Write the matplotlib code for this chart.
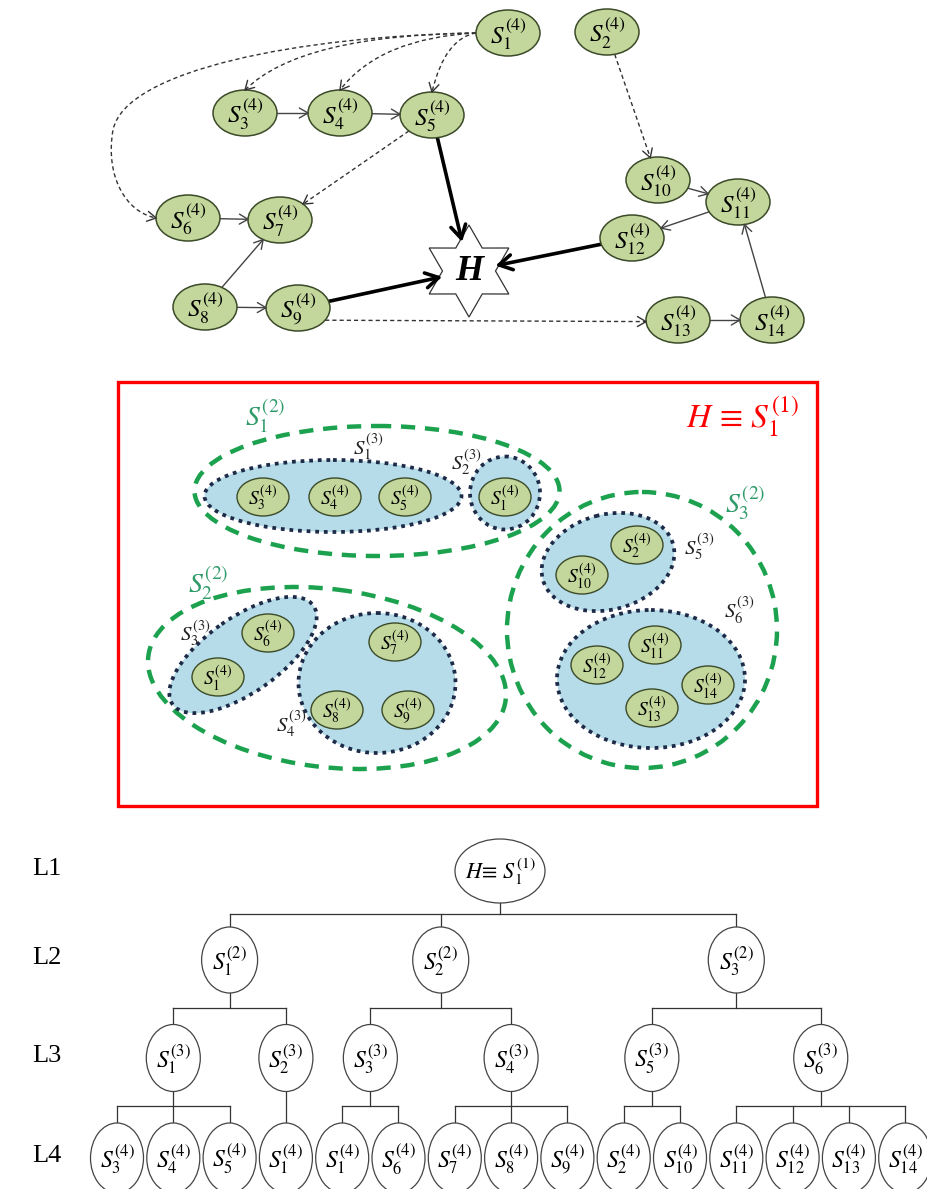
import numpy as np
import matplotlib
matplotlib.use("Agg")
import matplotlib.pyplot as plt
from matplotlib.patches import Ellipse, Polygon, Rectangle, PathPatch
from matplotlib.path import Path

plt.rcParams['mathtext.fontset'] = 'stix'

# ------------------------------------------------------------------ data
net_nodes = list(range(1, 15))
net_solid_edges = [(3, 4), (4, 5), (6, 7), (8, 7), (8, 9), (10, 11), (11, 12), (13, 14), (14, 11)]
net_dashed_edges = [(1, 3), (1, 4), (1, 5), (1, 6), (5, 7), (2, 10), (9, 13)]
net_to_hub = [5, 9, 12]
hub_label = "H"

root_label = r"$H\!\equiv\, S_1^{(1)}$"
box_title = r"$H\,\equiv\,S_1^{(1)}$"
level2_ids = [1, 2, 3]
level2_children = [[1, 2], [3, 4], [5, 6]]          # level-3 ids per level-2 group
level3_ids = [1, 2, 3, 4, 5, 6]
level3_children = [[3, 4, 5], [1], [1, 6], [7, 8, 9], [2, 10], [11, 12, 13, 14]]  # level-4 ids
level_names = ["L1", "L2", "L3", "L4"]

# ------------------------------------------------------------------ layout / style
W, H = 927, 1189
GREEN_FILL = '#c3d69b'
GREEN_EDGE = '#3b4a28'
BLUE_FILL = '#b5dce8'
DOT_EDGE = '#1d2b48'
DASH_GREEN = '#1ca24f'
LABEL_GREEN = '#2f9b6a'
LINE = '#444444'

net_xy = {1: (508, 33), 2: (607, 32), 3: (245, 113), 4: (340, 113), 5: (432, 115),
          6: (188, 218), 7: (280, 220), 8: (205, 307), 9: (298, 308), 10: (658, 180),
          11: (738, 202), 12: (632, 238), 13: (678, 320), 14: (772, 320)}
NW, NH = 64, 46
hub_xy = np.array([469.0, 271.0])
R_OUT, R_IN = 46, 26.5

# anchors (directions) and curve control points for some dashed edges
edge_anchor = {(1, 3): ((-1, 0), (0, -1)), (1, 4): ((-1, 0), (0, -1)), (1, 5): ((-1, 0), (0, -1)),
               (1, 6): ((-1, 0), (-1, 0)), (9, 13): ((1, 0.45), (-1, 0.05))}
edge_ctrl = {(1, 3): [(300, 35)], (1, 4): [(380, 38)], (1, 5): [(445, 38)],
             (1, 6): [(300, 36), (125, 70), (113, 130), (105, 175), (125, 212)]}

fig = plt.figure(figsize=(W / 100, H / 100), dpi=100)
ax = fig.add_axes([0, 0, 1, 1])
ax.set_xlim(0, W)
ax.set_ylim(H, 0)
ax.axis('off')


def ell_pt(c, w, h, d):
    d = np.asarray(d, float)
    d = d / np.hypot(*d)
    t = 1.0 / np.sqrt((d[0] / (w / 2)) ** 2 + (d[1] / (h / 2)) ** 2)
    return np.asarray(c, float) + t * d


def ray_poly(c, d, verts):
    d = np.asarray(d, float)
    d = d / np.hypot(*d)
    best = 0
    n = len(verts)
    for i in range(n):
        p, q = verts[i], verts[(i + 1) % n]
        e = q - p
        M = np.array([[d[0], -e[0]], [d[1], -e[1]]])
        if abs(np.linalg.det(M)) < 1e-9:
            continue
        t, s = np.linalg.solve(M, p - c)
        if t > 0 and -1e-9 <= s <= 1 + 1e-9:
            best = max(best, t)
    return c + best * d


def head(tip, direction, L, ang, lw, color):
    d = np.asarray(direction, float)
    d = d / np.hypot(*d)
    for s in (1, -1):
        a = np.deg2rad(ang * s)
        R = np.array([[np.cos(a), -np.sin(a)], [np.sin(a), np.cos(a)]])
        b = tip - L * (R @ d)
        ax.plot([b[0], tip[0]], [b[1], tip[1]], color=color, lw=lw,
                solid_capstyle='round', zorder=3)


# ================================================================== panel 1
ang = np.deg2rad(np.arange(12) * 30 - 90)
rad = np.where(np.arange(12) % 2 == 0, R_OUT, R_IN)
star = np.column_stack([hub_xy[0] + rad * np.cos(ang), hub_xy[1] + rad * np.sin(ang)])
ax.add_patch(Polygon(star, closed=True, facecolor='white', edgecolor='#333', lw=0.9, zorder=2))
ax.text(hub_xy[0], hub_xy[1] + 1, hub_label, ha='center', va='center', fontsize=26,
        family='Liberation Serif', weight='bold', style='italic', zorder=4)

for n in net_nodes:
    ax.add_patch(Ellipse(net_xy[n], NW, NH, facecolor=GREEN_FILL, edgecolor=GREEN_EDGE,
                         lw=1.1, zorder=2))
    ax.text(net_xy[n][0], net_xy[n][1] + 1, rf"$S_{{{n}}}^{{(4)}}$", ha='center', va='center',
            fontsize=18, zorder=4)

for a, b in net_solid_edges:
    ca, cb = np.array(net_xy[a], float), np.array(net_xy[b], float)
    d = cb - ca
    p0 = ell_pt(ca, NW, NH, d)
    p1 = ell_pt(cb, NW, NH, -d)
    ax.plot([p0[0], p1[0]], [p0[1], p1[1]], color=LINE, lw=1.0, zorder=1)
    head(p1, p1 - p0, 10, 30, 1.0, LINE)

for a, b in net_dashed_edges:
    ca, cb = np.array(net_xy[a], float), np.array(net_xy[b], float)
    da, db = edge_anchor.get((a, b), (cb - ca, ca - cb))
    p0 = ell_pt(ca, NW, NH, da)
    p1 = ell_pt(cb, NW, NH, db)
    ctrl = edge_ctrl.get((a, b), [])
    if len(ctrl) == 0:
        verts, codes = [p0, p1], [Path.MOVETO, Path.LINETO]
        tan = p1 - p0
    elif len(ctrl) == 1:
        verts, codes = [p0, ctrl[0], p1], [Path.MOVETO, Path.CURVE3, Path.CURVE3]
        tan = p1 - np.array(ctrl[0])
    else:
        verts = [p0] + [np.array(c) for c in ctrl] + [p1]
        codes = [Path.MOVETO] + [Path.CURVE4] * 6
        tan = p1 - np.array(ctrl[-1])
    ax.add_patch(PathPatch(Path(verts, codes), fill=False, edgecolor='#333', lw=1.0,
                           linestyle=(0, (3, 2.2)), zorder=1))
    head(p1, tan, 10, 30, 1.0, '#333')

for a in net_to_hub:
    ca = np.array(net_xy[a], float)
    d = hub_xy - ca
    p0 = ell_pt(ca, NW, NH, d)
    p1 = ray_poly(hub_xy, -d, star)
    ax.plot([p0[0], p1[0]], [p0[1], p1[1]], color='black', lw=2.6, zorder=1,
            solid_capstyle='round')
    head(p1, d, 15, 30, 2.6, 'black')

# ================================================================== panel 2
box = (118, 382, 817, 806)
l2_shapes = {1: ((377, 491), 365, 130, 0), 2: ((327, 678), 360, 178, 7), 3: ((642, 630), 270, 276, 0)}
l2_label_xy = {1: (265, 416), 2: (208, 583), 3: (745, 503)}
l3_shapes = {1: ((333, 496), 257, 72, 0), 2: ((505, 493), 70, 73, 0), 3: ((243, 655), 172, 75, -35),
             4: ((377, 683), 157, 140, 0), 5: ((608, 562), 135, 95, -15), 6: ((651, 679), 188, 138, 0)}
l3_label_xy = {1: (368, 447), 2: (466, 462), 3: (195, 633), 4: (291, 724), 5: (699, 547), 6: (739, 610)}
leaf_xy_mid = [[(263, 497), (335, 497), (405, 497)], [(505, 497)], [(218, 677), (268, 633)],
               [(395, 642), (337, 710), (408, 710)], [(637, 545), (582, 575)],
               [(655, 645), (597, 665), (652, 708), (708, 685)]]
SW, SH = 52, 38

ax.add_patch(Rectangle((box[0], box[1]), box[2] - box[0], box[3] - box[1], fill=False,
                       edgecolor='#ff0000', lw=2.4, zorder=5))
ax.text(743, 417, box_title, color='#ff0000', fontsize=24, ha='center', va='center')

for g in level2_ids:
    c, w, h, an = l2_shapes[g]
    ax.add_patch(Ellipse(c, w, h, angle=an, fill=False, edgecolor=DASH_GREEN, lw=3.2,
                         linestyle=(0, (3.2, 2.2)), zorder=1))
    ax.text(*l2_label_xy[g], rf"$S_{{{g}}}^{{(2)}}$", color=LABEL_GREEN, fontsize=20,
            ha='center', va='center')

for k, g in enumerate(level3_ids):
    c, w, h, an = l3_shapes[g]
    ax.add_patch(Ellipse(c, w, h, angle=an, facecolor=BLUE_FILL, edgecolor='none', zorder=2))
    ax.add_patch(Ellipse(c, w, h, angle=an, fill=False, edgecolor=DOT_EDGE, lw=2.7,
                         linestyle=(0, (1, 1.3)), zorder=3))
    ax.text(*l3_label_xy[g], rf"$S_{{{g}}}^{{(3)}}$", color='#222', fontsize=15,
            ha='center', va='center', zorder=6)
    for n, xy in zip(level3_children[k], leaf_xy_mid[k]):
        ax.add_patch(Ellipse(xy, SW, SH, facecolor=GREEN_FILL, edgecolor=GREEN_EDGE, lw=1.0, zorder=4))
        ax.text(xy[0], xy[1] + 1, rf"$S_{{{n}}}^{{(4)}}$", fontsize=14, ha='center',
                va='center', zorder=6)

# ================================================================== panel 3 (tree)
leaf_x0, leaf_dx = 117, 56.3
y_lv = [871, 960, 1058, 1158]
sizes = [(90, 64), (56, 66), (54, 67), (53, 70)]
root_x = 500
TL = '#333333'

leaf_x = []
l3_x = []
i = 0
for ch in level3_children:
    xs = [leaf_x0 + leaf_dx * (i + j) for j in range(len(ch))]
    i += len(ch)
    leaf_x.append(xs)
    l3_x.append((xs[0] + xs[-1]) / 2)
l2_x = [(l3_x[ch[0] - 1] + l3_x[ch[-1] - 1]) / 2 for ch in level2_children]


def tnode(x, lev, label, fs=17):
    w, h = sizes[lev]
    ax.add_patch(Ellipse((x, y_lv[lev]), w, h, facecolor='white', edgecolor='#444', lw=0.9, zorder=2))
    ax.text(x, y_lv[lev] + 1, label, ha='center', va='center', fontsize=fs, zorder=3)


def connect(px, plev, cxs):
    top = y_lv[plev] + sizes[plev][1] / 2
    bot = y_lv[plev + 1] - sizes[plev + 1][1] / 2
    bar = (top + bot) / 2 - 1
    if len(cxs) == 1:
        ax.plot([px, cxs[0]], [top, bot], color=TL, lw=0.9, zorder=1)
        return
    ax.plot([px, px], [top, bar], color=TL, lw=0.9, zorder=1)
    ax.plot([cxs[0], cxs[-1]], [bar, bar], color=TL, lw=0.9, zorder=1)
    for cx in cxs:
        ax.plot([cx, cx], [bar, bot], color=TL, lw=0.9, zorder=1)


tnode(root_x, 0, root_label, fs=16)
connect(root_x, 0, l2_x)
for g, ch in zip(level2_ids, level2_children):
    tnode(l2_x[g - 1], 1, rf"$S_{{{g}}}^{{(2)}}$")
    connect(l2_x[g - 1], 1, [l3_x[c - 1] for c in ch])
for k, g in enumerate(level3_ids):
    tnode(l3_x[k], 2, rf"$S_{{{g}}}^{{(3)}}$")
    connect(l3_x[k], 2, leaf_x[k])
    for n, x in zip(level3_children[k], leaf_x[k]):
        tnode(x, 3, rf"$S_{{{n}}}^{{(4)}}$")

for name, y in zip(level_names, y_lv):
    ax.text(47, y - 2, name, ha='center', va='center', fontsize=19, family='Liberation Serif')

fig.savefig('out.png', dpi=100)
